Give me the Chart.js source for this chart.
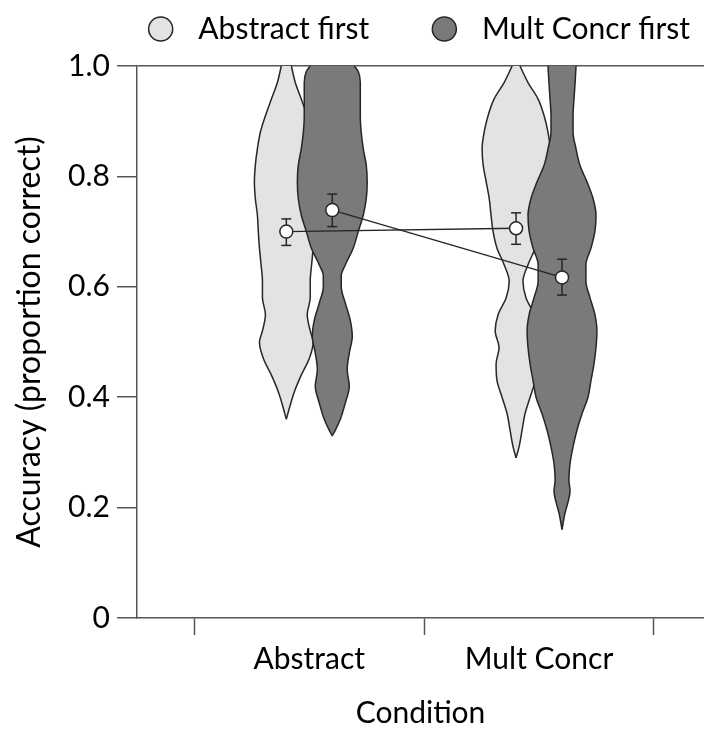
<!DOCTYPE html>
<html>
<head>
<meta charset="utf-8">
<script src="https://cdn.jsdelivr.net/npm/chart.js@4/dist/chart.umd.min.js"></script>
<style>
html, body { margin: 0; padding: 0; background: #ffffff; }
#wrap { width: 704px; height: 731px; }
</style>
</head>
<body>
<div id="wrap"><canvas id="c" width="704" height="731"></canvas></div>
<script>
// ---------------- data ----------------
const conditions = ['Abstract', 'Mult Concr'];
const conditionPos = [1, 2];
const groups = ['Abstract first', 'Mult Concr first'];
const groupOffset = [-0.1, 0.1];
const yTickValues = [0, 0.2, 0.4, 0.6, 0.8, 1.0];
const xTickValues = [0.5, 1, 1.5, 2, 2.5];

// means and error bars (per condition)
const meanAbstractFirst = [0.700, 0.706];
const loAbstractFirst   = [0.675, 0.677];
const hiAbstractFirst   = [0.723, 0.734];
const meanMultFirst     = [0.739, 0.617];
const loMultFirst       = [0.709, 0.585];
const hiMultFirst       = [0.768, 0.650];

// violin profiles: accuracy levels and half-widths (in condition-axis units)
const levelsAF_Abs = [0.36, 0.38, 0.41, 0.44, 0.47, 0.50, 0.52, 0.55, 0.58, 0.61, 0.64, 0.67, 0.70, 0.73, 0.76, 0.79, 0.82, 0.85, 0.88, 0.91, 0.94, 0.97, 1.00];
const widthAF_Abs  = [0, 0.013, 0.035, 0.065, 0.100, 0.117, 0.104, 0.091, 0.104, 0.104, 0.110, 0.117, 0.122, 0.126, 0.135, 0.139, 0.135, 0.126, 0.113, 0.091, 0.065, 0.039, 0.022];

const levelsAF_MC = [0.29, 0.31, 0.34, 0.37, 0.40, 0.43, 0.46, 0.49, 0.52, 0.55, 0.58, 0.61, 0.64, 0.67, 0.70, 0.73, 0.76, 0.79, 0.82, 0.85, 0.88, 0.91, 0.94, 0.97, 1.00];
const widthAF_MC  = [0, 0.013, 0.026, 0.039, 0.061, 0.083, 0.087, 0.074, 0.091, 0.078, 0.043, 0.030, 0.052, 0.083, 0.100, 0.109, 0.117, 0.130, 0.143, 0.148, 0.139, 0.122, 0.096, 0.052, 0.017];

const levelsMF_Abs = [0.33, 0.34, 0.36, 0.39, 0.42, 0.45, 0.48, 0.51, 0.54, 0.57, 0.60, 0.62, 0.64, 0.67, 0.70, 0.73, 0.76, 0.79, 0.82, 0.85, 0.88, 0.91, 0.94, 0.97, 0.99, 1.00];
const widthMF_Abs  = [0, 0.013, 0.035, 0.057, 0.074, 0.065, 0.074, 0.087, 0.078, 0.057, 0.039, 0.039, 0.057, 0.091, 0.113, 0.135, 0.148, 0.152, 0.148, 0.135, 0.126, 0.122, 0.122, 0.122, 0.113, 0.096];

const levelsMF_MC = [0.16, 0.19, 0.21, 0.23, 0.25, 0.28, 0.31, 0.34, 0.37, 0.40, 0.43, 0.46, 0.49, 0.52, 0.55, 0.58, 0.61, 0.64, 0.67, 0.70, 0.73, 0.76, 0.79, 0.82, 0.85, 0.88, 0.91, 0.94, 0.97, 1.00];
const widthMF_MC  = [0, 0.013, 0.026, 0.035, 0.030, 0.035, 0.048, 0.065, 0.087, 0.113, 0.126, 0.139, 0.148, 0.152, 0.143, 0.122, 0.104, 0.104, 0.126, 0.143, 0.148, 0.135, 0.109, 0.078, 0.061, 0.048, 0.048, 0.052, 0.057, 0.061];

// ---------------- styles ----------------
const LIGHT = '#e3e3e3';
const DARK = '#7a7a7a';
const OUTLINE = '#262626';
const AXIS = '#555555';
const FONT = 'Lato, "Liberation Sans", sans-serif';
Chart.defaults.font.family = FONT;
Chart.defaults.font.size = 30;
Chart.defaults.color = '#000';

// ---------------- datasets ----------------
const datasets = [];
const violins = [
  { center: conditionPos[0] + groupOffset[0], levels: levelsAF_Abs, widths: widthAF_Abs, color: LIGHT, order: 20 },
  { center: conditionPos[1] + groupOffset[0], levels: levelsAF_MC,  widths: widthAF_MC,  color: LIGHT, order: 20 },
  { center: conditionPos[0] + groupOffset[1], levels: levelsMF_Abs, widths: widthMF_Abs, color: DARK,  order: 10 },
  { center: conditionPos[1] + groupOffset[1], levels: levelsMF_MC,  widths: widthMF_MC,  color: DARK,  order: 10 }
];
violins.forEach(v => {
  const leftIdx = datasets.length;
  const common = {
    type: 'line', indexAxis: 'y', borderColor: OUTLINE, borderWidth: 1.5,
    pointRadius: 0, pointHoverRadius: 0, tension: 0.4, cubicInterpolationMode: 'monotone'
  };
  datasets.push(Object.assign({}, common, {
    data: v.levels.map((y, i) => ({ x: v.center - v.widths[i], y })),
    fill: false, order: v.order
  }));
  datasets.push(Object.assign({}, common, {
    data: v.levels.map((y, i) => ({ x: v.center + v.widths[i], y })),
    backgroundColor: v.color, fill: { target: leftIdx }, order: v.order + 1
  }));
});

const groupStats = [
  { mean: meanAbstractFirst, lo: loAbstractFirst, hi: hiAbstractFirst },
  { mean: meanMultFirst, lo: loMultFirst, hi: hiMultFirst }
];
groupStats.forEach((g, gi) => {
  conditionPos.forEach((c, ci) => {
    datasets.push({
      type: 'line', indexAxis: 'y',
      data: [{ x: c + groupOffset[gi], y: g.lo[ci] }, { x: c + groupOffset[gi], y: g.hi[ci] }],
      borderColor: OUTLINE, borderWidth: 1.5, fill: false, tension: 0,
      pointStyle: 'line', pointRadius: 5, pointHoverRadius: 5,
      pointBorderColor: OUTLINE, pointBorderWidth: 1.5, order: 2
    });
  });
});
groupStats.forEach((g, gi) => {
  datasets.push({
    type: 'line', label: groups[gi],
    data: conditionPos.map((c, ci) => ({ x: c + groupOffset[gi], y: g.mean[ci] })),
    borderColor: OUTLINE, borderWidth: 1.4, fill: false, tension: 0,
    pointStyle: 'circle', pointRadius: 6.5, pointHoverRadius: 6.5,
    pointBackgroundColor: '#ffffff', pointBorderColor: OUTLINE, pointBorderWidth: 1.5,
    order: 0
  });
});

// ---------------- chart ----------------
new Chart(document.getElementById('c'), {
  type: 'line',
  data: { datasets },
  options: {
    responsive: false,
    animation: false,
    devicePixelRatio: 1,
    events: [],
    layout: { padding: 0, autoPadding: false },
    plugins: {
      tooltip: { enabled: false },
      subtitle: {
        display: true, text: ' ', weight: 500, position: 'top',
        font: { size: 10, lineHeight: 1.2 }, padding: 0
      },
      legend: {
        display: true,
        position: 'top',
        align: 'end',
        labels: {
          usePointStyle: true,
          boxHeight: 17,
          padding: 14,
          font: { size: 30 },
          color: '#000',
          generateLabels: () => groups.map((g, i) => ({
            text: ' ' + g + (i === 0 ? '      ' : ''),
            fillStyle: [LIGHT, DARK][i],
            strokeStyle: OUTLINE,
            lineWidth: 1.5,
            pointStyle: 'circle',
            fontColor: '#000',
            hidden: false,
            datasetIndex: i
          }))
        }
      }
    },
    scales: {
      x: {
        type: 'linear',
        min: 0.25,
        max: 2.718,
        z: 1,
        afterBuildTicks: s => { s.ticks = xTickValues.map(v => ({ value: v })); },
        afterFit: s => { s.height = 113; s.paddingLeft = 0; s.paddingRight = 0; },
        ticks: {
          autoSkip: false, maxRotation: 0, minRotation: 0, padding: 6,
          font: { size: 30 }, color: '#000',
          callback: v => { const i = conditionPos.indexOf(v); return i >= 0 ? conditions[i] : ''; }
        },
        grid: {
          drawOnChartArea: false, drawTicks: true, tickLength: 17, tickWidth: 1.5,
          tickColor: ctx => (ctx.tick && conditionPos.includes(ctx.tick.value)) ? 'rgba(0,0,0,0)' : AXIS
        },
        border: { display: true, color: AXIS, width: 1.5 },
        title: { display: true, text: 'Condition', font: { size: 30 }, color: '#000', padding: { top: 0, bottom: 0 } }
      },
      y: {
        type: 'linear',
        min: 0,
        max: 1,
        z: 1,
        afterBuildTicks: s => { s.ticks = yTickValues.map(v => ({ value: v })); },
        afterFit: s => { s.width = 137; },
        ticks: {
          padding: 7, font: { size: 30 }, color: '#000',
          callback: v => v === 0 ? '0' : v.toFixed(1)
        },
        grid: {
          drawOnChartArea: true, drawTicks: true, tickLength: 20, tickWidth: 1.5, tickColor: AXIS,
          lineWidth: 1.5,
          color: ctx => (ctx.tick && ctx.tick.value === 1) ? AXIS : 'rgba(0,0,0,0)'
        },
        border: { display: true, color: AXIS, width: 1.5 },
        title: { display: true, text: 'Accuracy (proportion correct)', font: { size: 32 }, color: '#000', padding: { top: 10, bottom: 0 } }
      }
    }
  }
});
</script>
</body>
</html>
